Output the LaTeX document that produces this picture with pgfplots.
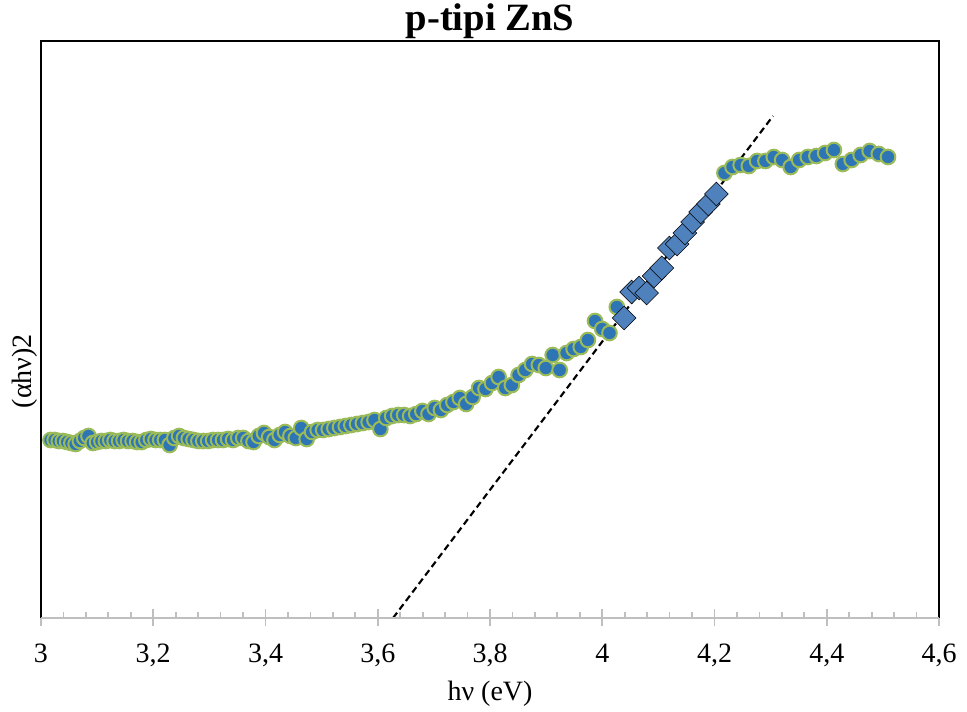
\documentclass[border=0pt]{standalone}
\usepackage{fontspec}
\setmainfont{Liberation Serif}
\usepackage{pgfplots}
\usepackage{pgfplotstable}
\pgfplotsset{compat=1.18}
\definecolor{cfill}{RGB}{46,117,182}
\definecolor{cedge}{RGB}{155,187,89}
\definecolor{dfill}{RGB}{79,129,189}
\definecolor{axgray}{RGB}{191,191,191}
\pgfplotstableread{
x y
3.0170 178
3.0244 178
3.0318 177
3.0392 177
3.0467 176
3.0542 175
3.0617 174
3.0693 177
3.0769 180
3.0846 182
3.0923 175
3.1000 176
3.1078 177
3.1156 177
3.1234 178
3.1313 177
3.1392 177
3.1472 178
3.1552 177
3.1633 177
3.1714 176
3.1795 176
3.1877 178
3.1959 179
3.2041 178
3.2124 178
3.2208 178
3.2292 173
3.2376 180
3.2461 182
3.2546 180
3.2632 179
3.2718 178
3.2804 177
3.2891 177
3.2979 177
3.3067 178
3.3155 178
3.3244 178
3.3333 179
3.3423 178
3.3514 180
3.3604 180
3.3696 177
3.3787 176
3.3880 182
3.3973 185
3.4066 181
3.4160 178
3.4254 183
3.4349 186
3.4444 182
3.4540 180
3.4637 190
3.4734 179
3.4831 186
3.4930 188
3.5028 188
3.5127 189
3.5227 190
3.5328 191
3.5429 192
3.5530 193
3.5632 194
3.5735 195
3.5838 196
3.5942 198
3.6047 189
3.6152 200
3.6257 202
3.6364 203
3.6471 203
3.6578 202
3.6686 204
3.6795 207
3.6905 204
3.7015 210
3.7126 208
3.7237 213
3.7349 216
3.7462 220
3.7576 214
3.7690 221
3.7805 230
3.7920 229
3.8037 235
3.8154 241
3.8272 230
3.8390 233
3.8509 243
3.8629 248
3.8750 254
3.8871 253
3.8994 250
3.9117 263
3.9241 248
3.9365 265
3.9490 269
3.9617 271
3.9744 278
3.9871 297
4.0000 289
4.0129 285
4.0260 311
4.2177 445
4.2321 451
4.2466 453
4.2612 452
4.2759 457
4.2907 457
4.3056 461
4.3206 458
4.3357 451
4.3509 458
4.3662 461
4.3816 462
4.3972 465
4.4128 468
4.4286 454
4.4444 458
4.4604 463
4.4765 467
4.4928 464
4.5091 461
}\circdata
\pgfplotstableread{
x y
4.0391 300
4.0523 326
4.0656 330
4.0789 325
4.0924 342
4.1060 350
4.1196 370
4.1333 374
4.1472 385
4.1611 396
4.1751 406
4.1892 414
4.2034 424
}\diadata
\begin{document}
\begin{tikzpicture}
\useasboundingbox (-30.75pt,-69.75pt) rectangle (694.5pt,463.5pt);
\begin{axis}[
  scale only axis,
  width=673.5pt, height=432.75pt,
  xmin=3, xmax=4.6, ymin=0, ymax=577,
  xtick={3,3.2,3.4,3.6,3.8,4,4.2,4.4,4.6},
  minor x tick num=4,
  ytick=\empty,
  xtick pos=left,
  axis line style={draw=none},
  tick align=inside,
  major tick length=12.75pt,
  minor tick length=4.5pt,
  major x tick style={yshift=-6pt},
  xtick style={draw=axgray, line width=1.3pt},
  /pgf/number format/use comma,
  /pgf/number format/assume math mode=true,
  xticklabel style={font=\fontsize{21}{25}\selectfont, inner sep=0pt, anchor=north},
  xticklabel shift=19.5pt,
  title={p-tipi ZnS},
  title style={font=\fontsize{29}{34}\selectfont\bfseries, at={(axis description cs:0.5,1)}, anchor=base, yshift=1.5pt},
  xlabel={hν (eV)},
  xlabel style={font=\fontsize{21}{25}\selectfont, at={(axis description cs:0.5,0)}, anchor=base, yshift=-61.5pt},
  ylabel={(αhν)2},
  ylabel style={font=\fontsize{21}{25}\selectfont, at={(axis description cs:-0.0111,0.428)}, anchor=base},
  after end axis/.code={
    \draw[black, line width=1.1pt] (rel axis cs:0,0) -- (rel axis cs:0,1) -- (rel axis cs:1,1) -- (rel axis cs:1,0);
    \draw[axgray, line width=1.5pt] (rel axis cs:0,0) -- (rel axis cs:1,0);
  },
]
\addplot[only marks, mark=*, mark size=5.5pt, mark options={fill=cfill, draw=cedge, line width=1.5pt}] table[x=x,y=y] {\circdata};
\addplot[only marks, mark=square*, mark size=6.3pt, mark options={fill=dfill, draw=none, rotate=45}] table[x=x,y=y] {\diadata};
\addplot[black, line width=1.6pt, dash pattern=on 5pt off 3pt] coordinates {(3.6272,0) (4.3042,502)};
\end{axis}
\end{tikzpicture}
\end{document}
